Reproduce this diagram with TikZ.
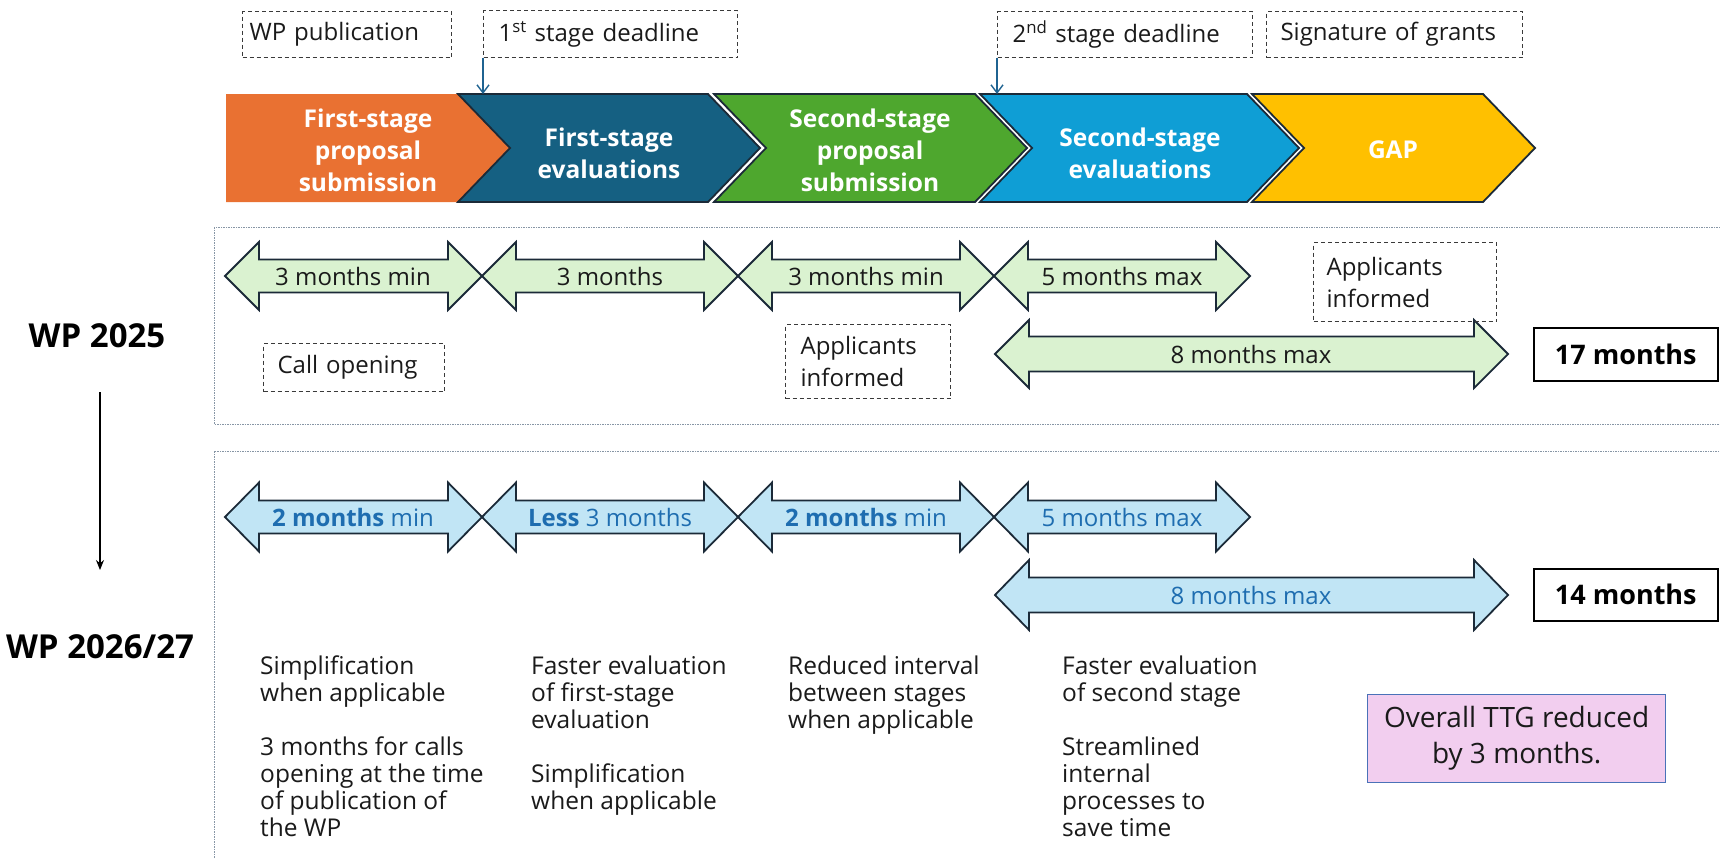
\documentclass[tikz,border=0pt]{standalone}
\usepackage{fontspec}
\setmainfont{Open Sans}
\usetikzlibrary{arrows.meta}
\definecolor{cOrange}{HTML}{E97132}
\definecolor{cDark}{HTML}{156082}
\definecolor{cGreen}{HTML}{4EA72E}
\definecolor{cLBlue}{HTML}{0F9ED5}
\definecolor{cGold}{HTML}{FFC000}
\definecolor{cEdge}{HTML}{1B2A38}
\definecolor{cPaleG}{HTML}{DAF2D0}
\definecolor{cPaleB}{HTML}{C1E5F5}
\definecolor{cTxtB}{HTML}{1E6DB0}
\definecolor{cPanel}{HTML}{8796A5}
\definecolor{cPink}{HTML}{F2CEEF}
\definecolor{cPinkEdge}{HTML}{4A72B8}
\definecolor{cPointer}{HTML}{1F6391}
\definecolor{cTag}{HTML}{3A3A3A}
\definecolor{cInk}{HTML}{1A1A1A}

\newcommand{\DblArrow}[6]{%
  \draw[#1] (#2,#4) -- ({#2+34},{#4-#5}) -- ({#2+34},{#4-#6}) -- ({#3-34},{#4-#6})
    -- ({#3-34},{#4-#5}) -- (#3,#4) -- ({#3-34},{#4+#5}) -- ({#3-34},{#4+#6})
    -- ({#2+34},{#4+#6}) -- ({#2+34},{#4+#5}) -- cycle;}

\tikzset{
  chev/.style={line width=1.8pt, draw=cEdge, line join=miter},
  chevtxt/.style={text=white, font=\fontsize{24.5}{32}\selectfont\bfseries, align=center},
  tag/.style={draw=cTag, dash pattern=on 4pt off 3pt, line width=1.1pt,
    font=\fontsize{24}{32}\selectfont, text=cInk, align=left, anchor=north west},
  panel/.style={draw=cPanel, dash pattern=on 1.5pt off 1pt, line width=0.9pt},
  greenarrow/.style={line width=1.8pt, draw=cEdge, fill=cPaleG, line join=miter},
  bluearrow/.style={line width=1.8pt, draw=cEdge, fill=cPaleB, line join=miter},
  lblg/.style={font=\fontsize{24}{27}\selectfont, text=cInk},
  lblb/.style={font=\fontsize{24}{27}\selectfont, text=cTxtB},
  note/.style={font=\fontsize{24.5}{27}\selectfont, text=cInk, align=left, anchor=north west, inner sep=0pt},
  total/.style={draw=black, line width=1.6pt, font=\fontsize{27}{30}\selectfont\bfseries,
    minimum width=184pt, inner sep=0pt, anchor=north west},
  wp/.style={font=\fontsize{33}{36}\selectfont\bfseries, text=black},
  pointer/.style={draw=cPointer, line width=1.4pt, -{Straight Barb[length=8pt,width=12pt]}},
}

\begin{document}
\begin{tikzpicture}[x=1pt,y=-1pt]
\useasboundingbox (0,0) rectangle (1720,857);

% panels
\draw[panel] (214,227) rectangle (1730,424);
\draw[panel] (214,451) rectangle (1730,870);

% chevrons
\fill[cOrange] (226,94) -- (458,94) -- (510,148) -- (458,202) -- (226,202) -- cycle;
\draw[chev, fill=cDark] (458,94) -- (708,94) -- (760,148) -- (708,202) -- (458,202) -- (510,148) -- cycle;
\draw[chev, fill=cGreen] (714,94) -- (975,94) -- (1027,148) -- (975,202) -- (714,202) -- (766,148) -- cycle;
\draw[chev, fill=cLBlue] (980,94) -- (1247,94) -- (1299,148) -- (1247,202) -- (980,202) -- (1032,148) -- cycle;
\draw[chev, fill=cGold] (1252,94) -- (1483,94) -- (1535,148) -- (1483,202) -- (1252,202) -- (1304,148) -- cycle;

\node[chevtxt] (s1) at (368,150) {First-stage\\proposal\\submission};
\node[chevtxt] (s2) at (609,153) {First-stage\\evaluations};
\node[chevtxt] (s3) at (870,150) {Second-stage\\proposal\\submission};
\node[chevtxt] (s4) at (1140,153) {Second-stage\\evaluations};
\node[chevtxt] (s5) at (1393,150) {GAP};

% top tags
\node[tag, minimum height=46pt, inner xsep=7pt, text width=195pt] (tPub) at (242,11) {\mbox{WP publication}};
\node[tag, minimum height=47pt, inner xsep=15pt, text width=224pt] (tDead1) at (483,10) {\mbox{1\textsuperscript{st} stage deadline}};
\node[tag, minimum height=46pt, inner xsep=15pt, text width=225pt] (tDead2) at (997,11) {\mbox{2\textsuperscript{nd} stage deadline}};
\node[tag, minimum height=46pt, inner xsep=14pt, text width=228pt] (tSign) at (1266,11) {\mbox{Signature of grants}};

\coordinate (chevTop) at (0,94);
\draw[pointer] (tDead1.south west) -- (tDead1.south west |- chevTop);
\draw[pointer] (tDead2.south west) -- (tDead2.south west |- chevTop);

% WP 2025 row
\DblArrow{greenarrow}{225}{482}{276}{34}{16.5}
\DblArrow{greenarrow}{482}{738}{276}{34}{16.5}
\DblArrow{greenarrow}{738}{994}{276}{34}{16.5}
\DblArrow{greenarrow}{994}{1250}{276}{34}{16.5}
\DblArrow{greenarrow}{995}{1508}{354}{34}{17.5}
\node[lblg] (g1) at (353,276) {3 months min};
\node[lblg] (g2) at (610,276) {3 months};
\node[lblg] (g3) at (866,276) {3 months min};
\node[lblg] (g4) at (1122,276) {5 months max};
\node[lblg] (g5) at (1251,354) {8 months max};

\node[tag, minimum height=48pt, inner xsep=14pt, text width=153pt] (call) at (263,343) {\mbox{Call opening}};
\node[tag, minimum height=74pt, inner xsep=15pt, text width=135pt] (appl1) at (785,324) {Applicants\\informed};
\node[tag, minimum height=79pt, inner xsep=13pt, text width=157pt] (appl2) at (1313,242) {Applicants\\informed};

\node[total, minimum height=53pt] (tot1) at (1533,327) {17 months};

% WP 2026/27 row
\DblArrow{bluearrow}{225}{482}{517}{34.5}{16.5}
\DblArrow{bluearrow}{482}{738}{517}{34.5}{16.5}
\DblArrow{bluearrow}{738}{994}{517}{34.5}{16.5}
\DblArrow{bluearrow}{994}{1250}{517}{34.5}{16.5}
\DblArrow{bluearrow}{995}{1508}{595}{35}{17.5}
\node[lblb] (b1) at (353,517) {\textbf{2 months} min};
\node[lblb] (b2) at (610,517) {\textbf{Less} 3 months};
\node[lblb] (b3) at (866,517) {\textbf{2 months} min};
\node[lblb] (b4) at (1122,517) {5 months max};
\node[lblb] (b5) at (1251,595) {8 months max};

\node[total, minimum height=52pt] (tot2) at (1533,568) {14 months};

% notes
\node[note] (n1) at (260,655) {\strut Simplification\\when applicable\\[27pt]3 months for calls\\opening at the time\\of publication of\\the WP};
\node[note] (n2) at (531,655) {\strut Faster evaluation\\of first-stage\\evaluation\\[27pt]Simplification\\when applicable};
\node[note] (n3) at (788,655) {\strut Reduced interval\\between stages\\when applicable};
\node[note] (n4) at (1062,655) {\strut Faster evaluation\\of second stage\\[27pt]Streamlined\\internal\\processes to\\save time};

\node[draw=cPinkEdge, fill=cPink, line width=1.3pt, minimum width=298pt, minimum height=88pt,
  anchor=north west, align=center, font=\fontsize{28}{36}\selectfont, text=cInk] (ttg) at (1367,694)
  {Overall TTG reduced\\by 3 months.};

% left labels
\node[wp] (wp25) at (97,336) {WP 2025};
\node[wp] (wp26) at (100,647) {WP 2026/27};
\coordinate (vaS) at (100,392);
\coordinate (vaE) at (100,570);
\draw[line width=1.4pt, -{Stealth[length=10pt,width=8pt]}] (vaS) -- (vaE);
\end{tikzpicture}
\end{document}
